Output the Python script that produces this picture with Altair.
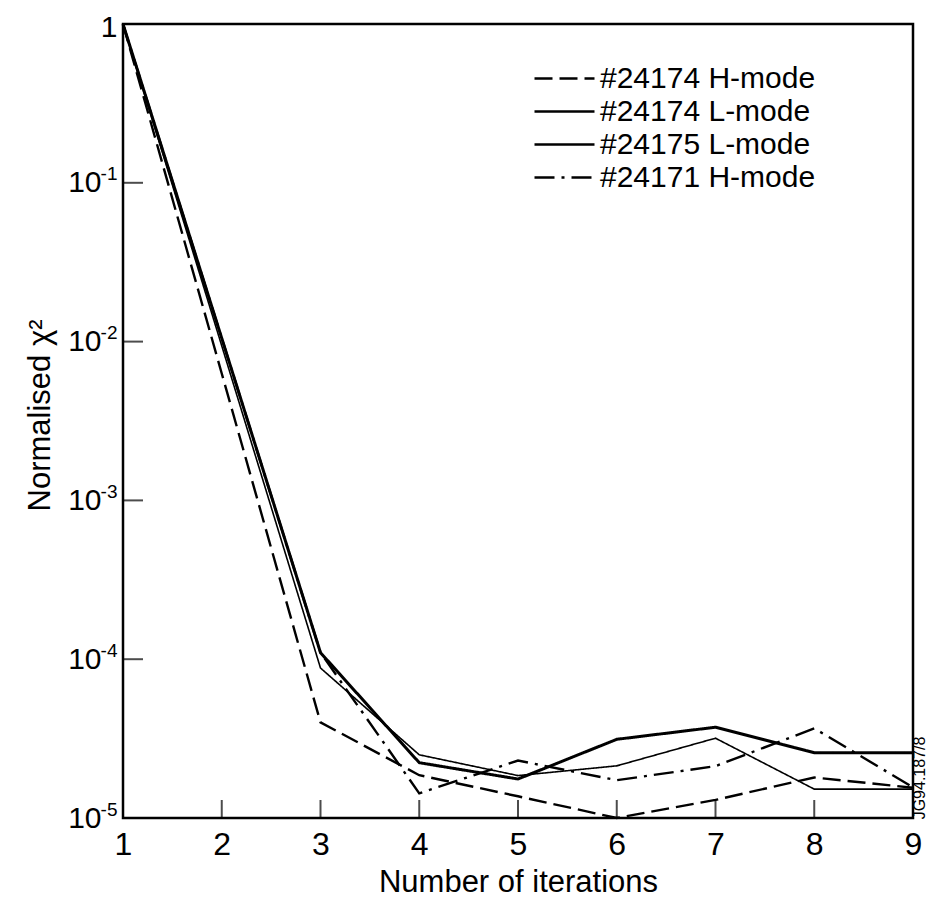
import altair as alt
import pandas as pd

FONT = "Liberation Sans"

# ---- data ----
iterations = [1, 2, 3, 4, 5, 6, 7, 8, 9]
series_names = ["#24174 H-mode", "#24174 L-mode", "#24175 L-mode", "#24171 H-mode"]
h_24174 = [1.0, 6.3e-3, 4.0e-5, 1.86e-5, 1.37e-5, 1.0e-5, 1.3e-5, 1.8e-5, 1.55e-5]
l_24174 = [1.0, 9.4e-3, 8.8e-5, 2.5e-5, 1.85e-5, 2.13e-5, 3.18e-5, 1.52e-5, 1.52e-5]
l_24175 = [1.0, 1.05e-2, 1.1e-4, 2.23e-5, 1.76e-5, 3.13e-5, 3.73e-5, 2.58e-5, 2.58e-5]
h_24171 = [1.0, 1.05e-2, 1.1e-4, 1.43e-5, 2.3e-5, 1.73e-5, 2.12e-5, 3.67e-5, 1.56e-5]
series_values = [h_24174, l_24174, l_24175, h_24171]

# styles (not data)
dash_patterns = [[18, 7], [1, 0], [1, 0], [20, 7, 3, 7]]
line_widths = [2.4, 1.6, 3.0, 2.4]

y_tick_values = [1, 1e-1, 1e-2, 1e-3, 1e-4, 1e-5]
y_inner_ticks = [1e-1, 1e-2, 1e-3, 1e-4]
x_tick_values = iterations
x_inner_ticks = [2, 3, 4, 5, 6, 7, 8]
note_text = "JG94.187/8"

rows = []
for name, vals, w in zip(series_names, series_values, line_widths):
    for it, v in zip(iterations, vals):
        rows.append({"series": name, "iteration": it, "chi2": v, "w": w})
df = pd.DataFrame(rows)

W, H = 790, 794
xscale = alt.Scale(domain=[1, 9], nice=False, zero=False)
yscale = alt.Scale(type="log", domain=[1e-5, 1], nice=False)

x_axis = alt.Axis(values=x_tick_values, format="d", title="Number of iterations",
                  ticks=False, domain=False, grid=False, labelFlush=False,
                  labelOverlap=False, labelFontSize=32, labelFont=FONT,
                  labelColor="black", labelPadding=11, titleFont=FONT,
                  titleFontSize=31, titleFontWeight="normal", titleColor="black",
                  titlePadding=7)


def x_enc():
    return alt.X("iteration:Q", scale=xscale, axis=x_axis)


lines = alt.Chart(df).mark_line(color="black", strokeCap="butt", strokeJoin="miter").encode(
    x=x_enc(),
    y=alt.Y("chi2:Q", scale=yscale,
            axis=alt.Axis(orient="left", values=y_tick_values,
                          labelExpr="datum.value >= 1 ? '' : '10'",
                          title="Normalised χ²", ticks=False, domain=False, grid=False,
                          labelFlush=False, labelOverlap=False, labelFontSize=30,
                          labelFont=FONT, labelColor="black", labelPadding=22,
                          titleFont=FONT, titleFontSize=31, titleFontWeight="normal",
                          titleColor="black", titleAngle=-90, titleX=-83, titleY=391,
                          titleAlign="center", titleBaseline="middle")),
    strokeDash=alt.StrokeDash("series:N",
                              scale=alt.Scale(domain=series_names, range=dash_patterns),
                              legend=alt.Legend(title=None, orient="none", legendX=410,
                                                legendY=38, symbolType="stroke",
                                                symbolSize=3600, symbolStrokeWidth=2.4,
                                                symbolStrokeColor="black", clipHeight=33,
                                                rowPadding=0, labelFontSize=30,
                                                labelFont=FONT, labelColor="black",
                                                labelOffset=4, labelLimit=500)),
    strokeWidth=alt.StrokeWidth("w:Q", scale=None),
    order="iteration:Q",
)

exp_expr = "datum.value >= 1 ? '1' : '-' + format(-log(datum.value) / LN10, 'd')"
ytick_df = pd.DataFrame({"iteration": [1] * len(y_inner_ticks), "chi2": y_inner_ticks})
yticks = alt.Chart(ytick_df).mark_tick(orient="horizontal", size=20, thickness=2,
                                        xOffset=10, color="black").encode(
    x=x_enc(),
    y=alt.Y("chi2:Q", scale=yscale,
            axis=alt.Axis(orient="left", values=y_tick_values, labelExpr=exp_expr,
                          title=None, ticks=False, domain=False, grid=False,
                          labelFlush=False, labelOverlap=False, labelFont=FONT,
                          labelColor="black", labelPadding=6,
                          labelFontSize={"condition": {"test": "datum.value >= 1", "value": 30}, "value": 19},
                          labelOffset={"condition": {"test": "datum.value >= 1", "value": 3}, "value": -9})),
)

xtick_df = pd.DataFrame({"iteration": x_inner_ticks, "chi2": [1e-5] * len(x_inner_ticks)})
xticks = alt.Chart(xtick_df).mark_tick(orient="vertical", size=18, thickness=2,
                                        yOffset=-9, color="black").encode(
    x=x_enc(),
    y=alt.Y("chi2:Q", scale=yscale, axis=None),
)

note = alt.Chart(pd.DataFrame({"t": [note_text]})).mark_text(
    angle=270, fontSize=16, font=FONT, color="black", baseline="middle", align="center"
).encode(text="t:N", x=alt.value(797), y=alt.value(754))

chart = alt.layer(lines, yticks, xticks, note).resolve_axis(y="independent").properties(
    width=W, height=H,
    autosize=alt.AutoSizeParams(type="none"),
    padding={"left": 123, "top": 24, "right": 16, "bottom": 93},
    background="white",
).configure_view(stroke="black", strokeWidth=2.5, fill="white")

chart.save("out.html", embed_options={"renderer": "svg", "actions": False})
